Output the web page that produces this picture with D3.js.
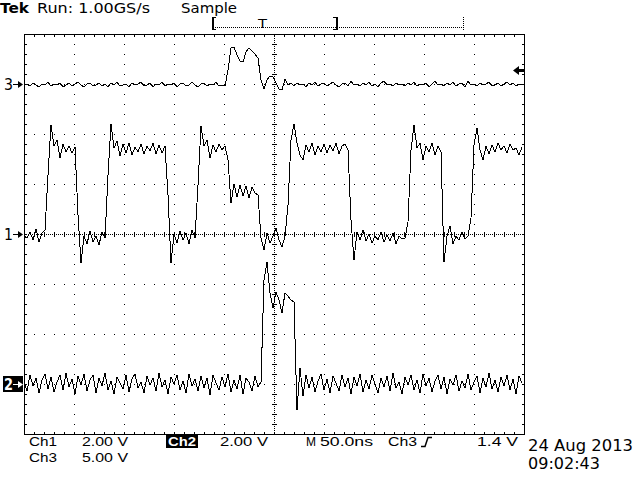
<!DOCTYPE html>
<html><head><meta charset="utf-8">
<script src="https://cdn.jsdelivr.net/npm/d3@7"></script>
<style>html,body{margin:0;padding:0;background:#fff;overflow:hidden}svg{display:block}</style>
</head><body><svg id="c" width="640" height="480"></svg>
<script>
// ---- acquisition data (volts), one sample every 3 ns starting at -250 ns ----
const sampleStepNs = 3;
const startNs = -250;
const ch1Volts = [
 -0.08,-0.16,0.08,-0.24,0.20,-0.32,0.04,0.16,2.36,4.36,
 3.52,3.76,3.04,3.60,3.28,3.52,3.24,3.48,0.76,-1.16,
 -0.08,-0.40,0.12,-0.32,-0.08,-0.44,0.08,-0.16,2.36,4.40,
 3.44,3.72,3.12,3.60,3.24,3.64,3.16,3.48,3.28,3.60,
 3.20,3.52,3.32,3.64,3.20,3.56,3.24,3.52,1.56,-1.16,
 0,-0.36,0.12,-0.24,0.04,-0.40,0.16,-0.16,1.96,4.32,
 3.52,3.76,3.04,3.56,3.28,3.60,3.36,3.52,2.96,1.24,
 2.00,1.48,1.96,1.52,1.92,1.44,1.88,1.64,1.56,-0.16,
 -0.64,0.04,-0.36,-0.08,0.24,-0.24,-0.52,-0.08,1.16,3.76,
 4.40,3.64,3.16,2.96,3.56,3.28,3.64,3.16,3.52,3.28,
 3.60,3.24,3.56,3.32,3.64,3.20,3.52,3.60,3.36,0.56,
 -1.04,0.08,-0.24,0.16,-0.28,0,-0.36,-0.08,-0.24,0.08,
 -0.32,-0.04,-0.28,0.04,-0.40,-0.08,-0.20,-0.16,0.48,3.36,
 4.36,3.44,3.64,2.96,3.52,3.28,3.64,3.16,3.52,3.28,
 -1.12,-0.08,0.32,-0.40,-0.08,-0.24,0.08,-0.20,-0.08,0.64,
 3.56,4.24,3.36,2.96,3.52,3.20,3.56,3.28,3.64,3.36,
 3.52,3.24,3.60,3.36,3.44,3.16,3.48
];
const ch2Volts = [
 0.12,-0.28,0.36,-0.08,0.24,-0.36,0.16,0.40,-0.20,0.28,
 -0.32,0.08,0.36,-0.24,0.44,-0.12,0.20,-0.40,0.32,-0.04,
 0.40,-0.28,0.16,0.36,-0.36,0.24,-0.08,0.44,-0.24,0.12,
 -0.40,0.28,0.04,-0.20,0.36,-0.32,0.20,0.40,-0.16,0.08,
 -0.36,0.32,-0.04,0.24,-0.28,0.44,-0.12,0.16,-0.40,0.28,
 0.00,0.36,-0.24,0.12,-0.36,0.40,-0.08,0.20,-0.28,0.32,
 -0.16,0.24,-0.44,0.36,0.04,-0.24,0.28,-0.12,0.40,-0.32,
 0.16,-0.20,0.36,-0.40,0.24,0.08,-0.28,0.32,-0.12,0.08,
 4.16,4.88,3.64,3.04,3.68,3.36,2.84,3.64,3.52,3.36,
 3.28,-1.04,0.64,-0.48,0.36,-0.16,0.28,-0.32,0.12,0.40,
 -0.24,0.20,-0.36,0.32,0.04,-0.28,0.36,-0.12,0.24,-0.40,
 0.28,-0.08,0.40,-0.32,0.16,-0.20,0.36,0.00,-0.36,0.24,
 -0.12,0.32,-0.28,0.44,-0.16,0.08,-0.40,0.28,-0.04,0.36,
 -0.24,0.16,-0.36,0.40,-0.08,0.24,-0.32,0.12,0.36,-0.20,
 0.28,-0.40,0.20,-0.04,0.36,-0.28,0.12,-0.16,0.40,-0.24,
 0.08,0.32,-0.36,0.24,-0.12,0.44,-0.20,0.16,-0.32,0.28,
 -0.08,0.36,-0.24,0.20,-0.40,0.32,0.04
];
const ch3Volts = [
 -0.1,0.0,-0.2,0.1,-0.1,-0.3,0.0,-0.1,0.2,-0.2,
 0.0,-0.1,0.1,-0.3,-0.1,0.1,-0.2,0.0,0.2,-0.1,
 -0.3,0.0,0.1,-0.2,-0.1,0.1,-0.2,0.0,-0.3,0.1,
 -0.1,0.2,-0.2,-0.1,0.0,-0.3,0.1,-0.1,0.0,0.2,
 -0.2,-0.1,0.1,-0.3,0.0,-0.1,0.2,-0.2,0.0,-0.1,
 0.1,-0.3,0.0,0.1,-0.2,-0.1,0.2,-0.1,-0.3,0.0,
 0.1,-0.2,0.0,-0.1,0.2,-0.2,-0.1,-0.2,1.4,3.6,
 3.7,2.9,2.3,2.2,3.2,3.6,3.3,3.0,2.6,0.4,
 -0.5,0.4,0.8,0.7,0.1,-0.5,-0.6,0.5,-0.1,0.1,
 -0.2,0.1,-0.1,0.0,-0.3,0.1,-0.1,0.2,-0.2,0.0,
 0.1,-0.2,0.0,0.2,-0.1,-0.3,0.0,0.1,-0.2,0.3,
 -0.1,0.0,-0.2,0.1,-0.1,0.2,-0.2,0.0,-0.3,0.1,
 0.3,-0.1,0.0,-0.2,0.1,-0.1,0.0,-0.2,0.1,-0.1,
 0.2,-0.2,0.0,-0.1,0.1,-0.3,0.0,0.3,-0.1,0.0,
 -0.2,0.1,-0.1,0.2,-0.2,0.0,0.1,-0.3,0.3,-0.1,
 0.0,-0.2,0.1,-0.1,0.0,0.2,-0.2,-0.1,0.1,-0.2,
 0.0,0.2,-0.1,0.1,-0.2,0.0,-0.1
];
// ---- channel settings ----
const channelNames = ["1", "2", "3"];
const voltsPerDiv = [2.00, 2.00, 5.00];
const positionDiv = [0, -3, 3];
const timePerDivNs = 50;
const triggerLevelV = 1.4;
const triggerChannel = 2; // index -> Ch3
// ---- readout texts ----
const headerTexts = ["Tek", "Run: 1.00GS/s", "Sample"];
const readoutRow1 = ["Ch1", "2.00 V", "Ch2", "2.00 V", "M", "50.0ns", "Ch3", "1.4 V"];
const readoutRow2 = ["Ch3", "5.00 V"];
const dateTexts = ["24 Aug 2013", "09:02:43"];

const svg = d3.select("#c");
svg.append("rect").attr("width", 640).attr("height", 480).attr("fill", "#fff");

const L = 24, T = 34, W = 500, H = 400;
const x = d3.scaleLinear().domain([-5 * timePerDivNs, 5 * timePerDivNs]).range([L, L + W]);
const yScales = voltsPerDiv.map((vpd, i) =>
  d3.scaleLinear().domain([(-4 - positionDiv[i]) * vpd, (4 - positionDiv[i]) * vpd]).range([T + H, T]));

const g = svg.append("g");
function dot(px, py) { g.append("rect").attr("x", px).attr("y", py).attr("width", 1).attr("height", 1).attr("fill", "#000"); }

// graticule: minor-dotted major lines
const cx = L + W / 2, cy = T + H / 2;
for (let k = 1; k < 10; k++) {
  const gx = L + 50 * k;
  if (gx === cx) continue;
  for (let yy = T + 10; yy < T + H; yy += 10) dot(gx, yy);
}
for (let k = 1; k < 8; k++) {
  const gy = T + 50 * k;
  if (gy === cy) continue;
  for (let xx = L + 10; xx < L + W; xx += 10) dot(xx, gy);
}
// center cross lines
for (let yy = T + 2; yy < T + H; yy += 2) dot(cx, yy);
for (let xx = L + 2; xx < L + W; xx += 2) dot(xx, cy);
for (let yy = T + 10; yy < T + H; yy += 10) g.append("rect").attr("x", cx - 2).attr("y", yy).attr("width", 5).attr("height", 1).attr("fill", "#000");
for (let xx = L + 10; xx < L + W; xx += 10) g.append("rect").attr("x", xx).attr("y", cy - 2).attr("width", 1).attr("height", 5).attr("fill", "#000");
// frame with inner ticks
g.append("rect").attr("x", L + 0.5).attr("y", T + 0.5).attr("width", W).attr("height", H)
  .attr("fill", "none").attr("stroke", "#000").attr("stroke-width", 1).attr("shape-rendering", "crispEdges");
for (let xx = L + 10; xx < L + W; xx += 10) {
  g.append("rect").attr("x", xx).attr("y", T + 1).attr("width", 1).attr("height", 2).attr("fill", "#000");
  g.append("rect").attr("x", xx).attr("y", T + H - 2).attr("width", 1).attr("height", 2).attr("fill", "#000");
}
for (let yy = T + 10; yy < T + H; yy += 10) {
  g.append("rect").attr("x", L + 1).attr("y", yy).attr("width", 2).attr("height", 1).attr("fill", "#000");
  g.append("rect").attr("x", L + W - 2).attr("y", yy).attr("width", 2).attr("height", 1).attr("fill", "#000");
}

// traces
[ch1Volts, ch2Volts, ch3Volts].forEach((vals, ci) => {
  const line = d3.line()
    .x((d, i) => x(startNs + i * sampleStepNs))
    .y(d => yScales[ci](d));
  svg.append("path").datum(vals).attr("d", line)
    .attr("fill", "none").attr("stroke", "#000").attr("stroke-width", 1)
    .attr("shape-rendering", "crispEdges");
});

// text helper
function label(t, px, py, len, o = {}) {
  const el = svg.append("text").text(t).attr("x", px).attr("y", py)
    .attr("font-family", o.family || "DejaVu Sans").attr("font-size", o.size || 14)
    .attr("font-weight", o.weight || "normal").attr("fill", o.fill || "#000");
  if (len) el.attr("textLength", len).attr("lengthAdjust", "spacingAndGlyphs");
  return el;
}

// channel ground markers
function arrow(yy, color) {
  svg.append("path").attr("d", `M13,${yy + 0.5}H22`).attr("stroke", color).attr("stroke-width", 1).attr("shape-rendering", "crispEdges");
  svg.append("path").attr("d", `M18,${yy - 3}L23,${yy + 0.5}L18,${yy + 4}Z`).attr("fill", color);
}
channelNames.forEach((nm, ci) => {
  const gy = Math.round(yScales[ci](0));
  if (ci === 1) {
    svg.append("rect").attr("x", 3).attr("y", gy - 8).attr("width", 20).attr("height", 16).attr("fill", "#000");
    label(nm, 4, gy + 6, 9, { size: 15, fill: "#fff", weight: "bold" });
    arrow(gy, "#fff");
  } else {
    label(nm, 4, gy + 6, 9, { size: 15 });
    arrow(gy, "#000");
  }
});

// trigger level arrow on right edge
const ty = Math.round(yScales[triggerChannel](triggerLevelV));
svg.append("path").attr("d", `M513,${ty + 0.5}L519,${ty - 4}L519,${ty + 5}Z`).attr("fill", "#000");
svg.append("rect").attr("x", 519).attr("y", ty - 1).attr("width", 5).attr("height", 3).attr("fill", "#000");

// header
label(headerTexts[0], 0, 13, 29, { size: 14, weight: "bold" });
label(headerTexts[1], 37, 13, 113, { size: 14 });
label(headerTexts[2], 181, 13, 56, { size: 14 });

// record-length bar
for (let xx = 215; xx <= 463; xx += 2) dot(xx, 27);
for (let yy = 17; yy <= 30; yy += 2) dot(463, yy);
svg.append("path").attr("d", "M212,17H216M212.5,17V30M212,29.5H216M213.5,17V30").attr("stroke", "#000").attr("shape-rendering", "crispEdges").attr("fill", "none");
svg.append("path").attr("d", "M333,17H338M337.5,17V30M333,29.5H338M336.5,17V30").attr("stroke", "#000").attr("shape-rendering", "crispEdges").attr("fill", "none");
label("T", 258, 28, 9, { size: 13 });

// bottom readouts
const r1 = 446, r2 = 462;
const RF = { family: "Liberation Sans", size: 13.5 };
label(readoutRow1[0], 29, r1, 28, RF);
label(readoutRow1[1], 82, r1, 46, RF);
svg.append("rect").attr("x", 166).attr("y", 434).attr("width", 32).attr("height", 14).attr("fill", "#000");
label(readoutRow1[2], 168, r1, 28, Object.assign({}, RF, { fill: "#fff", weight: "bold" }));
label(readoutRow1[3], 220, r1, 48, RF);
label(readoutRow1[4], 306, r1, 10, RF);
label(readoutRow1[5], 320, r1, 53, RF);
label(readoutRow1[6], 388, r1, 29, RF);
svg.append("path").attr("d", "M421,446.5H425L428,437.5H432").attr("stroke", "#000").attr("fill", "none").attr("stroke-width", 1.5);
label(readoutRow1[7], 477, r1, 41, RF);
label(readoutRow2[0], 29, r2, 28, RF);
label(readoutRow2[1], 82, r2, 46, RF);

// date/time
label(dateTexts[0], 528, 451, 105, { size: 15 });
label(dateTexts[1], 528, 469, 72, { size: 15 });
</script></body></html>
